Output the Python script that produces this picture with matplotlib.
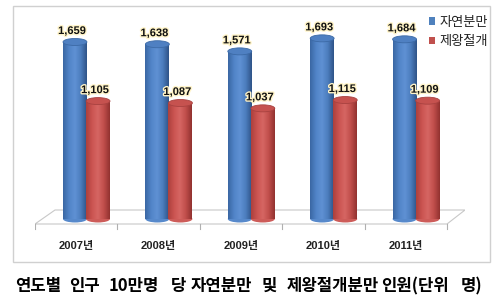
import matplotlib
matplotlib.use("Agg")
import matplotlib.pyplot as plt
import numpy as np
from matplotlib.patches import Ellipse, Polygon, Rectangle, Patch
from matplotlib.colors import LinearSegmentedColormap
import matplotlib.patheffects as pe

plt.rcParams['font.family'] = ['Noto Sans CJK KR', 'DejaVu Sans']

years = ['2007년', '2008년', '2009년', '2010년', '2011년']
natural = [1659, 1638, 1571, 1693, 1684]
cesarean = [1105, 1087, 1037, 1115, 1109]
series_names = ['자연분만', '제왕절개']
caption_words = ['연도별', '인구', '10만명', '당', '자연분만', '및', '제왕절개분만', '인원(단위', '명)']
caption_x = [15, 69, 109, 171, 191, 262, 287, 381, 461]

W, H = 497, 300
fig = plt.figure(figsize=(W / 100, H / 100), dpi=100)
fig.patch.set_facecolor('white')

# chart frame
fig.patches.append(Rectangle((13 / W, 1 - 262 / H), (490 - 13) / W, (262 - 6) / H,
                             transform=fig.transFigure, fill=False,
                             edgecolor='#d0d0d0', linewidth=1.0))

ax_l, ax_r = 35, 465
ax_t, ax_b = 6, 232
ax = fig.add_axes([ax_l / W, 1 - ax_b / H, (ax_r - ax_l) / W, (ax_b - ax_t) / H])
ax.set_axis_off()
cat_px = 82.4
ppu = 0.1067  # pixels per value unit
y0_px = 219
ylo = -(ax_b - y0_px) / ppu
yhi = (y0_px - ax_t) / ppu
xlo = -0.5
xhi = (ax_r - ax_l) / cat_px - 0.5
ax.set_xlim(xlo, xhi)
ax.set_ylim(ylo, yhi)

# floor
front_y = -(224 - y0_px) / ppu
back_y = (y0_px - 210) / ppu
back_l = (55 - ax_l) / cat_px - 0.5
n = len(years)
floor = Polygon([(-0.5, front_y), (n - 0.5, front_y), (xhi, back_y), (back_l, back_y)],
                closed=True, facecolor='white', edgecolor='#c8c8c8', linewidth=0.8, zorder=1)
ax.add_patch(floor)
tick_len = 5 / ppu
for i in range(n + 1):
    ax.plot([i - 0.5, i - 0.5], [front_y, front_y - tick_len], color='#b0b0b0', lw=0.8, zorder=1)

x = np.arange(n)
w = 0.29
shift = 0.125
xb = x + shift - 0.14
xr = x + shift + 0.14

blue_cmap = LinearSegmentedColormap.from_list('b', ['#3a67a3', '#5184c8', '#5f91d4', '#4c7dbd', '#2f5488'])
red_cmap = LinearSegmentedColormap.from_list('r', ['#ad403d', '#cb5451', '#d66663', '#c04e4b', '#923230'])
ell_h = 7 / ppu
grad = np.linspace(0, 1, 64).reshape(1, -1)
num_font = ['Liberation Sans', 'Noto Sans CJK KR']


def cylinders(xs, vals, cmap, top_col, edge_col, z):
    bars = ax.bar(xs, vals, width=w, color=cmap(0.5), zorder=z, linewidth=0)
    for b, xc, v in zip(bars, xs, vals):
        bot = Ellipse((xc, 0), w, ell_h, facecolor=cmap(0.6), edgecolor='none', zorder=z)
        ax.add_patch(bot)
        im = ax.imshow(grad, cmap=cmap, aspect='auto', extent=[xc - w / 2, xc + w / 2, 0, v],
                       zorder=z + 0.1, interpolation='bilinear')
        im.set_clip_path(b)
        top = Ellipse((xc, v), w, ell_h, facecolor=top_col, edgecolor=edge_col, lw=0.6, zorder=z + 0.2)
        ax.add_patch(top)
        ax.annotate(f'{v:,}', (xc, v), xytext=(-3, 6), textcoords='offset pixels',
                    ha='center', va='bottom', fontsize=8, fontweight='bold', color='#111111',
                    family=num_font,
                    path_effects=[pe.withStroke(linewidth=2, foreground='#fff4c8')], zorder=10)


cylinders(xb, natural, blue_cmap, '#4f80c2', '#3c6aa6', 3)
cylinders(xr, cesarean, red_cmap, '#c6524f', '#a84240', 4)
ax.set_xlim(xlo, xhi)
ax.set_ylim(ylo, yhi)

for i, yl in enumerate(years):
    ax.annotate(yl, (i, front_y), xytext=(0, -22), textcoords='offset pixels',
                ha='center', va='center', fontsize=8, fontweight='bold', color='#222222',
                family=num_font)

handles = [Patch(facecolor='#4f81bd', edgecolor='none'), Patch(facecolor='#c0504d', edgecolor='none')]
fig.legend(handles, series_names, loc='upper left', bbox_to_anchor=(422 / W, 1 - 9 / H),
           frameon=False, fontsize=9.5, handlelength=0.5, handleheight=0.5, handletextpad=0.35,
           labelspacing=0.5, borderpad=0, labelcolor='#222222')

for wd, xp in zip(caption_words, caption_x):
    fig.text(xp / W, 1 - 286 / H, wd, ha='left', va='center', fontsize=12,
             fontweight='bold', color='black', family=num_font[::-1])

fig.savefig('out.png', dpi=100)
